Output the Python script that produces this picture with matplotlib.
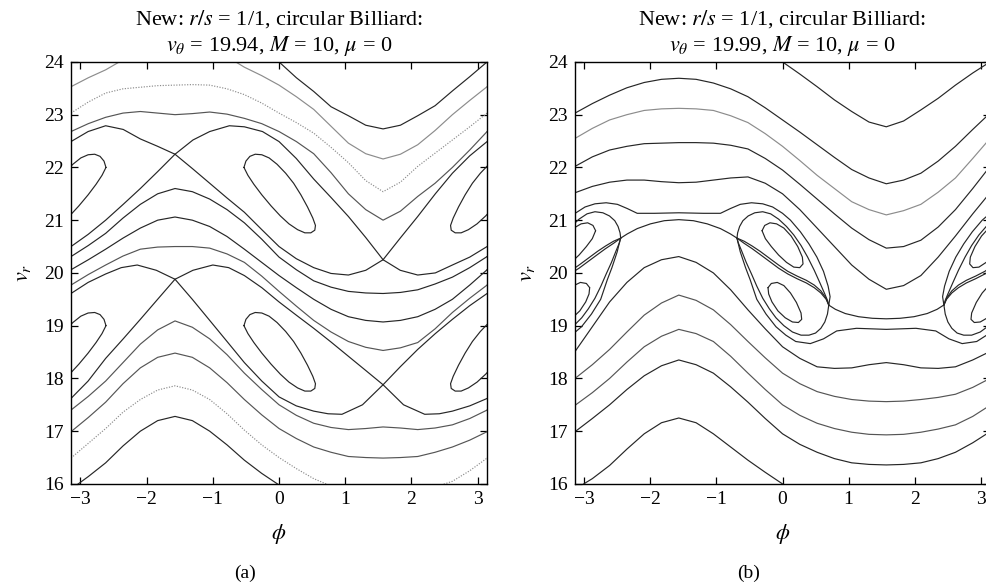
import numpy as np
import matplotlib
matplotlib.use('Agg')
import matplotlib.pyplot as plt

# ---------------- data ----------------
# phi from -pi to pi in steps of pi/12
phi_grid = [-3.1416, -2.8798, -2.618, -2.3562, -2.0944, -1.8326, -1.5708, -1.309,
            -1.0472, -0.7854, -0.5236, -0.2618, 0.0, 0.2618, 0.5236, 0.7854, 1.0472,
            1.309, 1.5708, 1.8326, 2.0944, 2.3562, 2.618, 2.8798, 3.1416]
ticks_x = [-3, -2, -1, 0, 1, 2, 3]
ticks_y = [16, 17, 18, 19, 20, 21, 22, 23, 24]

# panel (a): v_theta = 19.94, open curves on phi_grid
a_top = [24.0, 23.7, 23.44, 23.15, 22.98, 22.8, 22.73, 22.8, 22.98, 23.17, 23.45, 23.72, 24.0]  # phi_grid[12:]
a_l2 = [23.53, 23.7, 23.85, 24.04, 24.2, 24.3, 24.35, 24.32, 24.25, 24.1, 23.9, 23.74, 23.56,
        23.34, 23.1, 22.78, 22.46, 22.26, 22.16, 22.25, 22.43, 22.7, 23.0, 23.27, 23.53]
a_l3 = [23.03, 23.24, 23.41, 23.49, 23.52, 23.55, 23.56, 23.57, 23.56, 23.49, 23.38, 23.22, 23.03,
        22.85, 22.65, 22.38, 22.09, 21.75, 21.54, 21.72, 22.02, 22.27, 22.52, 22.77, 23.03]
a_l4 = [22.68, 22.83, 22.95, 23.03, 23.06, 23.03, 23.0, 23.02, 23.05, 23.01, 22.93, 22.83, 22.68,
        22.49, 22.26, 21.9, 21.5, 21.2, 21.0, 21.17, 21.45, 21.7, 22.0, 22.33, 22.68]
a_ca = [20.31, 20.52, 20.75, 21.04, 21.3, 21.5, 21.6, 21.54, 21.4, 21.2, 20.95, 20.64, 20.3,
        20.06, 19.85, 19.73, 19.65, 19.62, 19.61, 19.63, 19.68, 19.79, 19.92, 20.1, 20.31]
a_cb = [20.06, 20.25, 20.45, 20.66, 20.85, 21.0, 21.06, 21.0, 20.88, 20.69, 20.45, 20.2, 19.95,
        19.72, 19.5, 19.31, 19.17, 19.1, 19.07, 19.1, 19.17, 19.31, 19.5, 19.77, 20.06]
a_cc = [19.77, 19.97, 20.15, 20.32, 20.45, 20.49, 20.5, 20.5, 20.47, 20.36, 20.2, 19.94, 19.65,
        19.37, 19.1, 18.88, 18.7, 18.59, 18.53, 18.58, 18.68, 18.94, 19.25, 19.52, 19.77]
a_cd = [17.40, 17.66, 17.95, 18.3, 18.65, 18.92, 19.09, 18.97, 18.75, 18.45, 18.1, 17.79, 17.5,
        17.3, 17.15, 17.07, 17.03, 17.05, 17.08, 17.06, 17.03, 17.06, 17.12, 17.24, 17.40]
a_ce = [16.99, 17.26, 17.55, 17.9, 18.2, 18.4, 18.48, 18.4, 18.2, 17.92, 17.6, 17.31, 17.05,
        16.86, 16.7, 16.6, 16.52, 16.5, 16.49, 16.5, 16.52, 16.6, 16.7, 16.83, 16.99]
a_cf = [16.49, 16.77, 17.05, 17.36, 17.6, 17.78, 17.86, 17.78, 17.6, 17.33, 17.02, 16.74, 16.5,
        16.29, 16.1, 15.96, 15.85, 15.78, 15.75, 15.78, 15.85, 15.94, 16.05, 16.25, 16.49]
a_cg = [15.9, 16.14, 16.4, 16.72, 17.0, 17.2, 17.28, 17.2, 17.0, 16.74, 16.45, 16.2, 15.98,
        15.74, 15.5]                                                      # phi_grid[:15]

# panel (a): separatrices of the two resonance chains
a_s1_phi = [1.5708, 1.83, 2.0944, 2.36, 2.618, 2.88, 3.1416, 3.40, 3.6652, 3.93, 4.1888, 4.45, 4.7124]
a_s1_v = [20.25, 20.66, 21.07, 21.5, 21.89, 22.22, 22.49, 22.68, 22.79, 22.72, 22.54, 22.4, 22.25]
a_s2_phi = [-1.5708, -1.3, -1.0472, -0.75, -0.5236, -0.25, 0.0, 0.26, 0.5236, 0.785, 1.0472, 1.31, 1.5708]
a_s2_v = [22.25, 22.52, 22.68, 22.79, 22.77, 22.68, 22.49, 22.17, 21.78, 21.43, 21.07, 20.67, 20.25]
a_s3_phi = [-1.5708, -1.31, -1.0472, -0.785, -0.5236, -0.26, 0.0, 0.26, 0.5236, 0.785, 1.0472, 1.31, 1.5708]
a_s3_v = [22.25, 21.98, 21.70, 21.42, 21.15, 20.82, 20.5, 20.27, 20.1, 19.99, 19.96, 20.05, 20.25]
a_s4_phi = [1.5708, 1.83, 2.0944, 2.36, 2.618, 2.88, 3.1416, 3.40, 3.6652, 3.93, 4.1888, 4.45, 4.7124]
a_s4_v = [20.25, 20.05, 19.96, 20.0, 20.15, 20.3, 20.5, 20.73, 21.0, 21.3, 21.6, 21.92, 22.25]
a_s5_phi = [1.5708, 1.83, 2.0944, 2.36, 2.618, 2.88, 3.1416, 3.40, 3.6652, 3.9, 4.1416, 4.43, 4.7124]
a_s5_v = [17.88, 18.22, 18.55, 18.85, 19.12, 19.38, 19.61, 19.82, 19.98, 20.1, 20.15, 20.05, 19.88]
a_s6_phi = [-1.5708, -1.3, -1.0, -0.76, -0.5236, -0.26, 0.0, 0.26, 0.5236, 0.785, 1.0472, 1.31, 1.5708]
a_s6_v = [19.88, 20.05, 20.15, 20.1, 19.95, 19.72, 19.45, 19.2, 18.95, 18.69, 18.42, 18.15, 17.88]
a_s7_phi = [-1.5708, -1.31, -1.0472, -0.785, -0.5236, -0.26, 0.0, 0.26, 0.5236, 0.74, 0.95, 1.26, 1.5708]
a_s7_v = [19.88, 19.5, 19.1, 18.7, 18.3, 17.95, 17.65, 17.48, 17.38, 17.33, 17.32, 17.5, 17.88]
a_s8_phi = [1.5708, 1.88, 2.2, 2.42, 2.618, 2.88, 3.1416, 3.40, 3.6652, 3.93, 4.1888, 4.45, 4.7124]
a_s8_v = [17.88, 17.5, 17.32, 17.33, 17.38, 17.48, 17.62, 17.95, 18.38, 18.75, 19.12, 19.5, 19.88]

# panel (a): islands (A, C centred near phi = 0; B, D near phi = pi)
isl_ac_phi = [-0.53, -0.5, -0.44, -0.36, -0.26, -0.15, -0.03, 0.1, 0.22, 0.33, 0.43, 0.51,
              0.55, 0.54, 0.48, 0.39, 0.28, 0.15, 0.02, -0.12, -0.26, -0.38, -0.47, -0.53]
isl_bd_phi = [3.67, 3.64, 3.58, 3.50, 3.40, 3.29, 3.17, 3.04, 2.92, 2.81, 2.71, 2.63,
              2.59, 2.60, 2.66, 2.75, 2.86, 2.99, 3.12, 3.26, 3.40, 3.52, 3.61, 3.67]
isl_upper_v = [22.0, 22.12, 22.21, 22.25, 22.24, 22.18, 22.06, 21.89, 21.7, 21.48, 21.25, 21.04,
               20.9, 20.81, 20.76, 20.76, 20.82, 20.93, 21.08, 21.27, 21.48, 21.68, 21.85, 22.0]
isl_lower_v = [19.0, 19.12, 19.21, 19.25, 19.24, 19.18, 19.06, 18.89, 18.7, 18.48, 18.25, 18.04,
               17.9, 17.81, 17.76, 17.76, 17.82, 17.93, 18.08, 18.27, 18.48, 18.68, 18.85, 19.0]

# panel (b): v_theta = 19.99, open curves on phi_grid
b_r1 = [24.0, 23.77, 23.53, 23.28, 23.06, 22.86, 22.77, 22.88, 23.09, 23.31, 23.56, 23.79, 24.0]  # phi_grid[12:]
b_r2 = [23.03, 23.21, 23.37, 23.51, 23.61, 23.67, 23.69, 23.67, 23.6, 23.49, 23.34, 23.13, 22.9,
        22.67, 22.43, 22.19, 21.96, 21.8, 21.69, 21.76, 21.89, 22.12, 22.4, 22.72, 23.03]
b_r3 = [22.55, 22.74, 22.9, 23.0, 23.08, 23.11, 23.12, 23.11, 23.08, 22.98, 22.85, 22.64, 22.4,
        22.13, 21.85, 21.6, 21.35, 21.2, 21.1, 21.18, 21.3, 21.53, 21.8, 22.17, 22.55]
b_r4 = [22.02, 22.2, 22.33, 22.4, 22.45, 22.46, 22.47, 22.47, 22.46, 22.42, 22.35, 22.17, 21.95,
        21.68, 21.4, 21.12, 20.85, 20.63, 20.47, 20.5, 20.62, 20.87, 21.2, 21.6, 22.02]
b_r5 = [21.52, 21.64, 21.72, 21.76, 21.76, 21.73, 21.71, 21.72, 21.76, 21.8, 21.82, 21.7, 21.5,
        21.2, 20.85, 20.5, 20.15, 19.88, 19.69, 19.76, 19.95, 20.3, 20.7, 21.12, 21.52]
b_k1 = [18.51, 18.98, 19.45, 19.82, 20.1, 20.25, 20.31, 20.2, 20.0, 19.68, 19.3, 18.94, 18.6,
        18.38, 18.22, 18.19, 18.2, 18.26, 18.3, 18.26, 18.2, 18.19, 18.22, 18.35, 18.51]
b_k2 = [18.0, 18.26, 18.55, 18.88, 19.2, 19.43, 19.58, 19.48, 19.3, 19.02, 18.7, 18.39, 18.1,
        17.9, 17.75, 17.66, 17.6, 17.57, 17.56, 17.57, 17.6, 17.64, 17.7, 17.83, 18.0]
b_k3 = [17.49, 17.73, 18.0, 18.31, 18.6, 18.8, 18.93, 18.85, 18.7, 18.42, 18.1, 17.79, 17.5,
        17.3, 17.15, 17.05, 16.98, 16.94, 16.93, 16.94, 16.98, 17.04, 17.12, 17.28, 17.49]
b_k4 = [16.99, 17.24, 17.5, 17.79, 18.05, 18.24, 18.35, 18.26, 18.1, 17.84, 17.55, 17.24, 16.95,
        16.75, 16.6, 16.48, 16.4, 16.37, 16.36, 16.37, 16.4, 16.48, 16.6, 16.78, 16.99]
b_k5 = [15.9, 16.1, 16.35, 16.66, 16.95, 17.16, 17.25, 17.16, 16.95, 16.7, 16.45, 16.22, 16.0,
        15.8, 15.6]                                                       # phi_grid[:15]

# panel (b): separatrix layer
b_t_phi = [-3.84, -3.86, -3.83, -3.76, -3.66, -3.54, -3.41, -3.26, -3.14, -2.99, -2.84, -2.67,
           -2.5, -2.35, -2.2, -1.94, -1.57, -1.2, -0.94, -0.79, -0.64, -0.47, -0.3, -0.15, 0.0,
           0.12, 0.27, 0.4, 0.52, 0.62, 0.69, 0.72, 0.70]
b_t_v = [19.39, 19.55, 19.75, 20.03, 20.3, 20.55, 20.78, 21.0, 21.13, 21.25, 21.31, 21.33,
         21.3, 21.22, 21.13, 21.13, 21.14, 21.13, 21.13, 21.22, 21.3, 21.33, 21.31, 21.25, 21.13,
         21.0, 20.78, 20.55, 20.3, 20.03, 19.75, 19.55, 19.39]
b_b_phi = [-0.69, -0.64, -0.56, -0.49, -0.39, -0.25, -0.1, 0.05, 0.2, 0.42, 0.62, 0.82, 1.12,
           1.57, 2.02, 2.32, 2.52, 2.72, 2.94, 3.09, 3.24, 3.39, 3.53, 3.63, 3.70, 3.78, 3.83]
b_b_v = [20.66, 20.4, 20.1, 19.87, 19.5, 19.22, 18.98, 18.82, 18.7, 18.66, 18.75, 18.9, 18.95,
         18.93, 18.95, 18.9, 18.75, 18.66, 18.7, 18.82, 18.98, 19.22, 19.5, 19.87, 20.1, 20.4, 20.66]
b_tc_phi = [-2.45, -2.35, -2.2, -2.0, -1.79, -1.57, -1.35, -1.14, -0.94, -0.79, -0.69]
b_tc_v = [20.66, 20.74, 20.84, 20.93, 20.99, 21.01, 20.99, 20.93, 20.84, 20.74, 20.66]
b_bc_phi = [0.70, 0.8, 0.95, 1.15, 1.36, 1.57, 1.78, 1.99, 2.19, 2.34, 2.44]
b_bc_v = [19.39, 19.31, 19.23, 19.17, 19.14, 19.13, 19.14, 19.17, 19.23, 19.31, 19.39]

# lobes around the islands (E, F near phi = 0; G, H near phi = pi)
b_el_phi = [-0.69, -0.68, -0.65, -0.6, -0.52, -0.42, -0.3, -0.18, -0.06, 0.06, 0.17, 0.28,
            0.38, 0.48, 0.57, 0.64, 0.68, 0.70]
b_gl_phi = [-2.45, -2.46, -2.49, -2.54, -2.62, -2.72, -2.84, -2.96, -3.08, -3.2, -3.31, -3.42,
            -3.52, -3.62, -3.71, -3.78, -3.82, -3.84]
b_el_v = [20.66, 20.76, 20.88, 20.99, 21.08, 21.14, 21.16, 21.12, 21.02, 20.88, 20.72, 20.52,
          20.3, 20.05, 19.8, 19.6, 19.48, 19.39]
b_fl_phi = [0.70, 0.68, 0.64, 0.58, 0.5, 0.4, 0.28, 0.15, 0.02, -0.1, -0.2, -0.3, -0.39, -0.47,
            -0.55, -0.62, -0.67, -0.69]
b_hl_phi = [-3.84, -3.82, -3.78, -3.72, -3.64, -3.54, -3.42, -3.29, -3.16, -3.04, -2.94, -2.84,
            -2.75, -2.67, -2.59, -2.52, -2.47, -2.45]
b_fl_v = [19.39, 19.22, 19.07, 18.95, 18.86, 18.82, 18.82, 18.88, 19.0, 19.15, 19.32, 19.52,
          19.75, 19.98, 20.2, 20.42, 20.57, 20.66]
b_m_phi = [-0.69, -0.58, -0.46, -0.34, -0.2, -0.06, 0.08, 0.22, 0.36, 0.48, 0.58, 0.66, 0.70]
b_mg_phi = [-2.45, -2.56, -2.68, -2.80, -2.94, -3.08, -3.22, -3.36, -3.50, -3.62, -3.72, -3.80, -3.84]
b_m1_v = [20.66, 20.6, 20.51, 20.41, 20.28, 20.15, 20.03, 19.94, 19.86, 19.77, 19.66, 19.52, 19.39]
b_m2_v = [20.66, 20.56, 20.46, 20.35, 20.22, 20.09, 19.98, 19.89, 19.81, 19.72, 19.62, 19.5, 19.39]

b_e_phi = [-0.31, -0.27, -0.19, -0.09, 0.02, 0.13, 0.23, 0.3, 0.31, 0.26, 0.17, 0.06, -0.06,
           -0.17, -0.26, -0.31]
b_g_phi = [-2.83, -2.87, -2.95, -3.05, -3.16, -3.27, -3.37, -3.44, -3.45, -3.40, -3.31, -3.20,
           -3.08, -2.97, -2.88, -2.83]
b_e_v = [20.8, 20.9, 20.95, 20.93, 20.85, 20.7, 20.5, 20.3, 20.17, 20.1, 20.11, 20.2, 20.34,
         20.5, 20.65, 20.8]
b_f_phi = [-0.22, -0.17, -0.08, 0.02, 0.12, 0.21, 0.28, 0.29, 0.24, 0.15, 0.04, -0.07, -0.16,
           -0.21, -0.22]
b_h_phi = [-2.92, -2.97, -3.06, -3.16, -3.26, -3.35, -3.42, -3.43, -3.38, -3.29, -3.18, -3.07,
           -2.98, -2.93, -2.92]
b_f_v = [19.72, 19.8, 19.82, 19.76, 19.62, 19.44, 19.24, 19.12, 19.06, 19.07, 19.15, 19.28,
         19.45, 19.6, 19.72]

# ---------------- styling ----------------
plt.rcParams['font.family'] = ['Liberation Serif', 'DejaVu Serif']
plt.rcParams['mathtext.fontset'] = 'stix'

DARK = '#262626'
MID = '#555555'
GREY = '#8c8c8c'
DOT = (0, (1, 1.3))


def draw(ax, phi, v, color=DARK, ls='-', lw=0.85):
    # the map is periodic in phi, so draw each piece once more on either side
    phi = np.asarray(phi, dtype=float)
    for shift in (-2 * np.pi, 0.0, 2 * np.pi):
        ax.plot(phi + shift, v, color=color, ls=ls, lw=lw,
                solid_joinstyle='round', solid_capstyle='round')


def frame(ax, title):
    ax.set_xlim(-np.pi, np.pi)
    ax.set_ylim(16, 24)
    ax.set_xticks(ticks_x)
    ax.set_yticks(ticks_y)
    ax.tick_params(direction='in', top=True, right=True, length=5, width=0.9,
                   labelsize=14, pad=5)
    for s in ax.spines.values():
        s.set_linewidth(1.0)
    ax.set_xlabel(r'$\phi$', fontsize=16, labelpad=10)
    ax.set_ylabel(r'$v_r$', fontsize=16, labelpad=8)
    ax.set_title(title, fontsize=16, pad=8, linespacing=1.25)


fig = plt.figure(figsize=(9.86, 5.88), dpi=100)
ax_a = fig.add_axes([0.072, 0.177, 0.422, 0.7177])
ax_b = fig.add_axes([0.5832, 0.177, 0.4209, 0.7177])
g = np.array(phi_grid)

# ---- panel (a)
draw(ax_a, g[12:], a_top, DARK)
draw(ax_a, g, a_l2, GREY)
draw(ax_a, g, a_l3, GREY, DOT)
draw(ax_a, g, a_l4, MID)
for phi, v in [(a_s1_phi, a_s1_v), (a_s2_phi, a_s2_v), (a_s3_phi, a_s3_v),
               (a_s4_phi, a_s4_v), (a_s5_phi, a_s5_v), (a_s6_phi, a_s6_v),
               (a_s7_phi, a_s7_v), (a_s8_phi, a_s8_v)]:
    draw(ax_a, phi, v, DARK)
draw(ax_a, g, a_ca, DARK)
draw(ax_a, g, a_cb, DARK)
draw(ax_a, g, a_cc, MID)
draw(ax_a, g, a_cd, MID)
draw(ax_a, g, a_ce, MID)
draw(ax_a, g, a_cf, GREY, DOT)
draw(ax_a, g[:15], a_cg, DARK)
draw(ax_a, isl_ac_phi, isl_upper_v, DARK)
draw(ax_a, isl_ac_phi, isl_lower_v, DARK)
draw(ax_a, isl_bd_phi, isl_upper_v, DARK)
draw(ax_a, isl_bd_phi, isl_lower_v, DARK)

# ---- panel (b)
draw(ax_b, g[12:], b_r1, DARK)
draw(ax_b, g, b_r2, DARK)
draw(ax_b, g, b_r3, GREY)
draw(ax_b, g, b_r4, DARK)
draw(ax_b, g, b_r5, DARK)
draw(ax_b, g, b_k1, DARK)
draw(ax_b, g, b_k2, MID)
draw(ax_b, g, b_k3, MID)
draw(ax_b, g, b_k4, DARK)
draw(ax_b, g[:15], b_k5, DARK)
draw(ax_b, b_t_phi, b_t_v, DARK)
draw(ax_b, b_b_phi, b_b_v, DARK)
draw(ax_b, b_tc_phi, b_tc_v, DARK)
draw(ax_b, b_bc_phi, b_bc_v, DARK)
draw(ax_b, b_el_phi, b_el_v, DARK)
draw(ax_b, b_gl_phi, b_el_v, DARK)
draw(ax_b, b_fl_phi, b_fl_v, DARK)
draw(ax_b, b_hl_phi, b_fl_v, DARK)
for phi in (b_m_phi, b_mg_phi):
    draw(ax_b, phi, b_m1_v, DARK)
    draw(ax_b, phi, b_m2_v, DARK)
draw(ax_b, b_e_phi, b_e_v, DARK)
draw(ax_b, b_g_phi, b_e_v, DARK)
draw(ax_b, b_f_phi, b_f_v, DARK)
draw(ax_b, b_h_phi, b_f_v, DARK)

frame(ax_a, 'New: $r/s$ = 1/1, circular Billiard:\n$v_\\theta$ = 19.94, $M$ = 10, $\\mu$ = 0')
frame(ax_b, 'New: $r/s$ = 1/1, circular Billiard:\n$v_\\theta$ = 19.99, $M$ = 10, $\\mu$ = 0')

fig.text(245 / 986, 1 - 573 / 588, '(a)', ha='center', va='center', fontsize=14)
fig.text(749 / 986, 1 - 573 / 588, '(b)', ha='center', va='center', fontsize=14)

fig.savefig('out.png', dpi=100)
